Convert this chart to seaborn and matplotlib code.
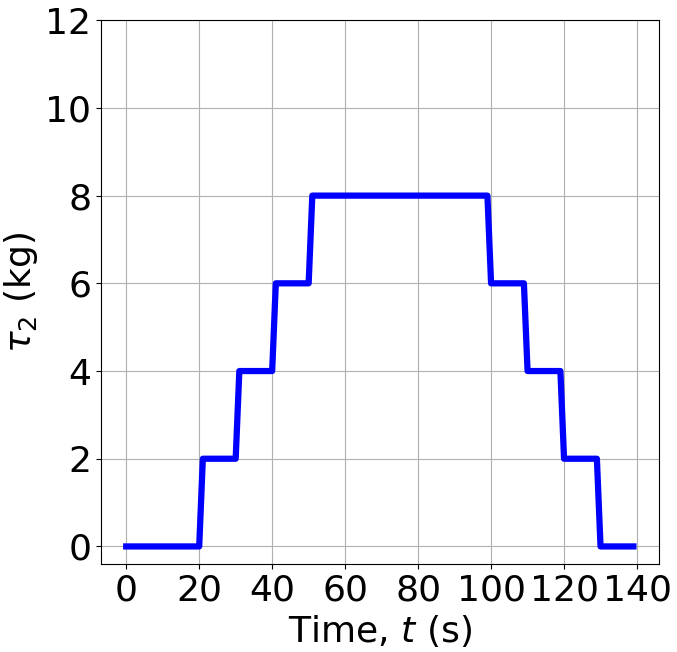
import numpy as np
import pandas as pd
import matplotlib
matplotlib.use("Agg")
import matplotlib.pyplot as plt
import seaborn as sns

# corner points of the load profile (s, kg)
time = [0, 20, 21, 30, 31, 40, 41, 50, 51, 99, 100, 109, 110, 119, 120, 129, 130, 139]
tau2 = [0, 0, 2, 2, 4, 4, 6, 6, 8, 8, 6, 6, 4, 4, 2, 2, 0, 0]

df = pd.DataFrame({"t": time, "tau": tau2})

fig = plt.figure(figsize=(6.77, 6.52), dpi=100)
ax = fig.add_axes([0.149, 0.135, 0.824, 0.834])
sns.lineplot(data=df, x="t", y="tau", ax=ax, color="blue", linewidth=4.5,
             estimator=None, sort=False)

ax.set_ylim(top=12)
ax.set_xticks(np.arange(0, 141, 20))
ax.set_yticks(np.arange(0, 13, 2))
ax.tick_params(labelsize=26)
ax.grid(True)
ax.set_xlabel("Time, $t$ (s)", fontsize=26)
ax.set_ylabel(r"$\tau_2$ (kg)", fontsize=26)

plt.savefig("out.png", dpi=100)
